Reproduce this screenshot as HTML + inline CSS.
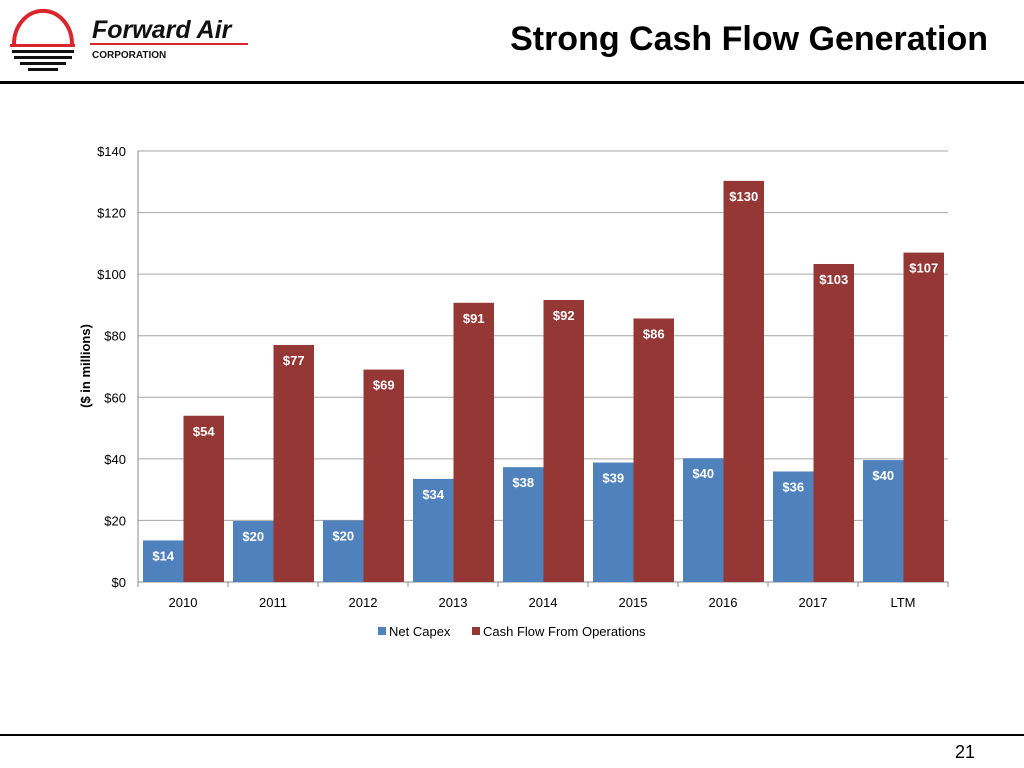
<!DOCTYPE html>
<html><head><meta charset="utf-8"><style>
body{margin:0;width:1024px;height:768px;background:#fff;font-family:"Liberation Sans",sans-serif;overflow:hidden;position:relative}
.abs{position:absolute}
</style></head><body>
<svg class="abs" style="left:0;top:0" width="260" height="80">
<path d="M14 44 A 28 32 0 0 1 72 44" fill="none" stroke="#d9262e" stroke-width="4"/>
<rect x="10" y="44" width="65" height="3" fill="#d9262e"/>
<rect x="12" y="50" width="62" height="3" fill="#111"/>
<rect x="14" y="56" width="58" height="3" fill="#111"/>
<rect x="20" y="62" width="46" height="3" fill="#111"/>
<rect x="28" y="68" width="30" height="3" fill="#111"/>
<text x="92" y="38" font-family="Liberation Sans" font-weight="bold" font-style="italic" font-size="25" fill="#111">Forward Air</text>
<rect x="90" y="43" width="158" height="2" fill="#d9262e"/>
<text x="92" y="58" font-family="Liberation Sans" font-weight="bold" font-size="10" fill="#111">CORPORATION</text>
</svg>
<div class="abs" style="right:36px;top:20px;font-size:34px;font-weight:bold;color:#000">Strong Cash Flow Generation</div>
<div class="abs" style="left:0;top:81px;width:1024px;height:3px;background:#000"></div>
<div class="abs" style="left:0;top:734px;width:1024px;height:2px;background:#000"></div>
<div class="abs" style="left:955px;top:742px;font-size:18px">21</div>
<svg id="chart" class="abs" style="left:0;top:0" width="1024" height="700"></svg>
<script>
const categories=["2010","2011","2012","2013","2014","2015","2016","2017","LTM"];
const netCapex=[13.5,19.8,20,33.5,37.3,38.8,40.2,35.9,39.6];
const capexLabels=["$14","$20","$20","$34","$38","$39","$40","$36","$40"];
const cfo=[54,77,69,90.7,91.6,85.6,130.3,103.3,107];
const cfoLabels=["$54","$77","$69","$91","$92","$86","$130","$103","$107"];
const yTicks=[0,20,40,60,80,100,120,140];
const ns="http://www.w3.org/2000/svg",svg=document.getElementById('chart');
const X0=138,X1=948,Y0=582,Y1=151,yMax=140;
const y=v=>Y0-(v/yMax)*(Y0-Y1);
const gw=(X1-X0)/categories.length;
function mk(t,a,txt){const e=document.createElementNS(ns,t);for(const k in a)e.setAttribute(k,a[k]);if(txt!=null)e.textContent=txt;svg.appendChild(e);return e;}
yTicks.forEach(v=>{
 const g=mk('line',{x1:X0,x2:X1,y1:y(v),y2:y(v),stroke:v?'#a6a6a6':'#888','stroke-width':1});
 
 
 const t=mk('text',{x:X0-12,y:y(v)+5,'text-anchor':'end','font-size':13,fill:'#000','font-family':'Liberation Sans'},'$'+v);
 
 
});
mk('line',{x1:X0,x2:X0,y1:Y1,y2:Y0,stroke:'#888'});
categories.forEach((c,i)=>{
 const gx=X0+i*gw, bw=40.5;
 mk('line',{x1:gx,x2:gx,y1:Y0,y2:Y0+5,stroke:'#888'});
 const b=mk('rect',{x:gx+5,y:y(netCapex[i]),width:bw,height:Y0-y(netCapex[i]),fill:'#4f81bd'});
 
 
 const r=mk('rect',{x:gx+5+bw,y:y(cfo[i]),width:bw,height:Y0-y(cfo[i]),fill:'#953735'});
 
 
 const l1=mk('text',{x:gx+5+bw/2,y:y(netCapex[i])+20,'text-anchor':'middle','font-size':13,'font-weight':'bold',fill:'#fff','font-family':'Liberation Sans'},capexLabels[i]);
 
 
 const l2=mk('text',{x:gx+5+bw*1.5,y:y(cfo[i])+20,'text-anchor':'middle','font-size':13,'font-weight':'bold',fill:'#fff','font-family':'Liberation Sans'},cfoLabels[i]);
 
 
 const xl=mk('text',{x:gx+gw/2,y:Y0+25,'text-anchor':'middle','font-size':13,fill:'#000','font-family':'Liberation Sans'},c);
 
 
});
mk('line',{x1:X1,x2:X1,y1:Y0,y2:Y0+5,stroke:'#888'});
const yt=mk('text',{x:0,y:0,transform:'translate(90,366) rotate(-90)','text-anchor':'middle','font-size':13,'font-weight':'bold','font-family':'Liberation Sans'},'($ in millions)');


const legend=[["Net Capex","#4f81bd",378],["Cash Flow From Operations","#953735",472]];
legend.forEach(([n,col,lx])=>{
 const s=mk('rect',{x:lx,y:627,width:8,height:8,fill:col});
 
 
 const t=mk('text',{x:lx+11,y:636,'font-size':13,'font-family':'Liberation Sans'},n);
 
 
});
</script>
</body></html>
